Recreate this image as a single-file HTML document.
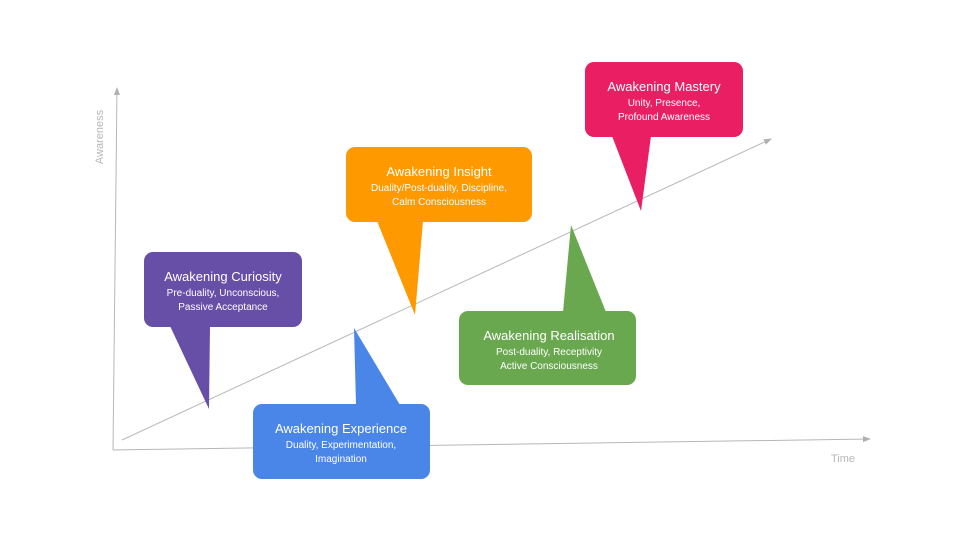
<!DOCTYPE html>
<html><head><meta charset="utf-8"><style>
html,body{margin:0;padding:0;background:#fff;}
svg{display:block;}
text{font-family:"Liberation Sans",sans-serif;}
.t{fill:#fff;font-size:13px;text-anchor:middle;}
.s{fill:#fff;font-size:10px;text-anchor:middle;}
</style></head><body>
<svg width="960" height="540" viewBox="0 0 960 540">
<defs>
<marker id="a" markerWidth="8" markerHeight="8" refX="7" refY="4" orient="auto" markerUnits="userSpaceOnUse">
<path d="M0,1 L8,4 L0,7 Z" fill="#b0b0b0"/></marker>
</defs>
<line x1="113" y1="450" x2="117" y2="88" stroke="#b7b7b7" stroke-width="1" marker-end="url(#a)"/>
<line x1="113" y1="450" x2="870" y2="439" stroke="#b7b7b7" stroke-width="1" marker-end="url(#a)"/>
<line x1="122" y1="440" x2="771" y2="139" stroke="#b7b7b7" stroke-width="1" marker-end="url(#a)"/>
<text x="103" y="137" transform="rotate(-90 103 137)" text-anchor="middle" font-size="11" fill="#b7b7b7">Awareness</text>
<text x="843" y="462" text-anchor="middle" font-size="11" fill="#b7b7b7">Time</text>

<!-- Purple -->
<rect x="144" y="252" width="158" height="75" rx="9" fill="#674ea7"/>
<polygon points="170,326 210,326 209,409" fill="#674ea7"/>
<text class="t" x="223" y="281">Awakening Curiosity</text>
<text class="s" x="223" y="296">Pre-duality, Unconscious,</text>
<text class="s" x="223" y="310">Passive Acceptance</text>

<!-- Orange -->
<rect x="346" y="147" width="186" height="75" rx="9" fill="#ff9900"/>
<polygon points="377,221 423,221 415,315" fill="#ff9900"/>
<text class="t" x="439" y="176">Awakening Insight</text>
<text class="s" x="439" y="191">Duality/Post-duality, Discipline,</text>
<text class="s" x="439" y="205">Calm Consciousness</text>

<!-- Blue -->
<rect x="253" y="404" width="177" height="75" rx="9" fill="#4a86e8"/>
<polygon points="354,328 356,405 400,405" fill="#4a86e8"/>
<text class="t" x="341" y="433">Awakening Experience</text>
<text class="s" x="341" y="448">Duality, Experimentation,</text>
<text class="s" x="341" y="462">Imagination</text>

<!-- Pink -->
<rect x="585" y="62" width="158" height="75" rx="9" fill="#e91e63"/>
<polygon points="612,136 651,136 641,211" fill="#e91e63"/>
<text class="t" x="664" y="91">Awakening Mastery</text>
<text class="s" x="664" y="106">Unity, Presence,</text>
<text class="s" x="664" y="120">Profound Awareness</text>

<!-- Green -->
<rect x="459" y="311" width="177" height="74" rx="9" fill="#6aa84f"/>
<polygon points="571,225 563,312 606,312" fill="#6aa84f"/>
<text class="t" x="549" y="340">Awakening Realisation</text>
<text class="s" x="549" y="355">Post-duality, Receptivity</text>
<text class="s" x="549" y="369">Active Consciousness</text>
</svg>
</body></html>
